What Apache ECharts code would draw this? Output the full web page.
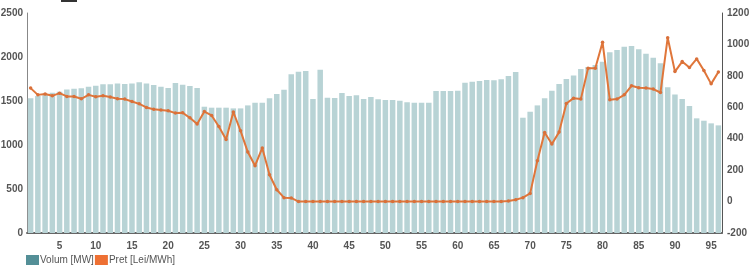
<!DOCTYPE html>
<html>
<head>
<meta charset="utf-8">
<script src="https://cdn.jsdelivr.net/npm/echarts@6/dist/echarts.min.js"></script>
<style>html,body{margin:0;padding:0;background:#fff}#c{width:750px;height:271px}</style>
</head>
<body>
<div id="c"></div>
<script>
const categories = Array.from({length: 96}, (_, i) => String(i + 1));
const volum = [1530,1556,1568,1594,1605,1632,1640,1644,1662,1674,1689,1689,1700,1693,1700,1712,1700,1681,1662,1647,1704,1685,1670,1647,1435,1424,1424,1424,1416,1416,1450,1481,1481,1530,1579,1628,1803,1833,1840,1522,1856,1537,1533,1590,1556,1564,1522,1545,1519,1511,1511,1503,1485,1481,1481,1481,1613,1613,1613,1617,1708,1719,1727,1738,1735,1746,1784,1829,1310,1378,1450,1530,1617,1693,1750,1791,1865,1885,1910,1945,2053,2079,2117,2124,2087,2037,1992,1928,1655,1575,1522,1443,1303,1276,1246,1223];
const pret = [722,679,684,673,690,669,669,654,679,667,673,665,654,652,637,622,599,588,582,578,563,565,533,493,573,548,478,395,570,450,315,228,341,171,75,25,23,0,0,0,0,0,0,0,0,0,0,0,0,0,0,0,0,0,0,0,0,0,0,0,0,0,0,0,0,0,3,12,25,52,260,440,366,442,624,658,652,849,849,1014,648,652,679,737,724,722,716,694,1043,827,891,853,908,834,749,824];
const leftTicks = {min: 0, max: 2500, interval: 500};
const rightTicks = {min: -200, max: 1200, interval: 200};
const names = ['Volum [MW]', 'Pret [Lei/MWh]'];

const chart = echarts.init(document.getElementById('c'), null, {renderer: 'canvas'});
const lbl = {fontFamily: 'Liberation Sans, Arial, sans-serif', fontSize: 10, fontWeight: 'bold', color: '#555'};
const plain = (v) => String(v);
chart.setOption({
  animation: false,
  backgroundColor: '#fff',
  grid: {left: 27, right: 28, top: 13, bottom: 38, containLabel: false, outerBoundsMode: 'none'},
  legend: {
    left: 26, top: 255, padding: 0, itemWidth: 13, itemHeight: 10, itemGap: 1,
    icon: 'rect',
    textStyle: {fontFamily: 'Liberation Sans, Arial, sans-serif', fontSize: 10, color: '#555', padding: [0, 0, 0, -4]},
    data: [
      {name: names[0], itemStyle: {color: '#548f97'}},
      {name: names[1], itemStyle: {color: '#ee7033'}}
    ]
  },
  graphic: [{type: 'rect', shape: {x: 61, y: 0, width: 16, height: 2}, style: {fill: '#333'}}],
  xAxis: {
    type: 'category', data: categories,
    axisLine: {show: true, lineStyle: {color: '#666', width: 2}},
    axisTick: {show: false},
    axisLabel: Object.assign({}, lbl, {margin: 8, interval: (i) => (i + 1) % 5 === 0}),
    splitLine: {show: false}
  },
  yAxis: [
    {type: 'value', min: leftTicks.min, max: leftTicks.max, interval: leftTicks.interval,
     axisLine: {show: true, lineStyle: {color: '#888', width: 1}}, axisTick: {show: false},
     axisLabel: Object.assign({}, lbl, {margin: 4, formatter: plain}), splitLine: {show: false}},
    {type: 'value', min: rightTicks.min, max: rightTicks.max, interval: rightTicks.interval, position: 'right',
     axisLine: {show: true, lineStyle: {color: '#555', width: 1}}, axisTick: {show: false},
     axisLabel: Object.assign({}, lbl, {margin: 5, formatter: plain}), splitLine: {show: false}}
  ],
  series: [
    {name: names[0], type: 'bar', data: volum, yAxisIndex: 0, barCategoryGap: '24%',
     itemStyle: {color: '#b8d3d5'}},
    {name: names[1], type: 'line', data: pret, yAxisIndex: 1, z: 5,
     symbol: 'circle', symbolSize: 3.5, showSymbol: true,
     lineStyle: {color: '#e0763a', width: 2}, itemStyle: {color: '#d9703a'}}
  ]
});
</script>
</body>
</html>
